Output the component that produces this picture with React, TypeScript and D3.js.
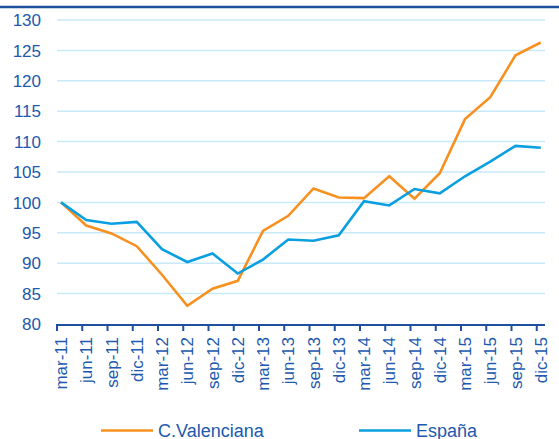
import React from "react";
import * as d3 from "d3";

const categories = [
  "mar-11", "jun-11", "sep-11", "dic-11",
  "mar-12", "jun-12", "sep-12", "dic-12",
  "mar-13", "jun-13", "sep-13", "dic-13",
  "mar-14", "jun-14", "sep-14", "dic-14",
  "mar-15", "jun-15", "sep-15", "dic-15",
];

const valenciana = [
  100, 96.2, 94.9, 92.8,
  88.1, 83.0, 85.8, 87.1,
  95.3, 97.8, 102.3, 100.8,
  100.7, 104.3, 100.6, 104.8,
  113.7, 117.3, 124.2, 126.3,
];

const espana = [
  100, 97.1, 96.5, 96.8,
  92.3, 90.2, 91.6, 88.3,
  90.6, 93.9, 93.7, 94.6,
  100.2, 99.5, 102.2, 101.5,
  104.3, 106.7, 109.3, 109.0,
];

const yTicks = [80, 85, 90, 95, 100, 105, 110, 115, 120, 125, 130];

const series = [
  { name: "C.Valenciana", values: valenciana, color: "#F7901E" },
  { name: "España", values: espana, color: "#0A9FE0" },
];

const W = 559;
const H = 439;
const FONT = "'Liberation Sans', Arial, sans-serif";
const TEXT = "#2159AE";
const AXIS = "#1D509E";
const GRID = "#C8E9F9";

export default function App() {
  const x = d3.scalePoint<string>().domain(categories).range([57, 536.75]);
  const y = d3.scaleLinear().domain([80, 130]).range([324, 20]);
  const offset = 4;
  const plotRight = 545;
  const axisY = 325;

  const line = d3
    .line<number>()
    .x((_, i) => (x(categories[i]) as number) + offset)
    .y((d) => y(d));

  return (
    <svg
      width={W}
      height={H}
      style={{ position: "absolute", left: 0, top: 0, background: "#fff" }}
      fontFamily={FONT}
    >
      <line x1={0} x2={W} y1={7} y2={7} stroke={AXIS} strokeWidth={2.5} />
      {yTicks.filter((t) => t > 80).map((t) => (
        <line key={"g" + t} x1={57} x2={plotRight} y1={y(t)} y2={y(t)} stroke={GRID} strokeWidth={1.5} />
      ))}
      {yTicks.map((t) => (
        <text
          key={"y" + t}
          x={41}
          y={y(t)}
          dy="0.36em"
          textAnchor="end"
          fontSize={17}
          fill={TEXT}
        >
          {t}
        </text>
      ))}
      {series.map((s) => (
        <path
          key={s.name}
          d={line(s.values) || ""}
          fill="none"
          stroke={s.color}
          strokeWidth={2.6}
          strokeLinejoin="miter"
        />
      ))}
      <line x1={56} x2={plotRight} y1={axisY} y2={axisY} stroke={AXIS} strokeWidth={2.2} />
      {categories.map((c) => (
        <line
          key={"t" + c}
          x1={x(c) as number}
          x2={x(c) as number}
          y1={axisY}
          y2={axisY + 6}
          stroke={AXIS}
          strokeWidth={2}
        />
      ))}
      {categories.map((c) => (
        <text
          key={"x" + c}
          transform={`translate(${(x(c) as number) + 4},${337}) rotate(-90)`}
          textAnchor="end"
          dy="0.36em"
          fontSize={17}
          fill={TEXT}
        >
          {c}
        </text>
      ))}
      {series.map((s, i) => {
        const lx = i === 0 ? 101 : 359;
        return (
          <g key={"l" + s.name}>
            <line x1={lx} x2={lx + 52} y1={430.5} y2={430.5} stroke={s.color} strokeWidth={2.6} />
            <text x={lx + 57} y={436.5} fontSize={18} fill={TEXT}>
              {s.name}
            </text>
          </g>
        );
      })}
    </svg>
  );
}
